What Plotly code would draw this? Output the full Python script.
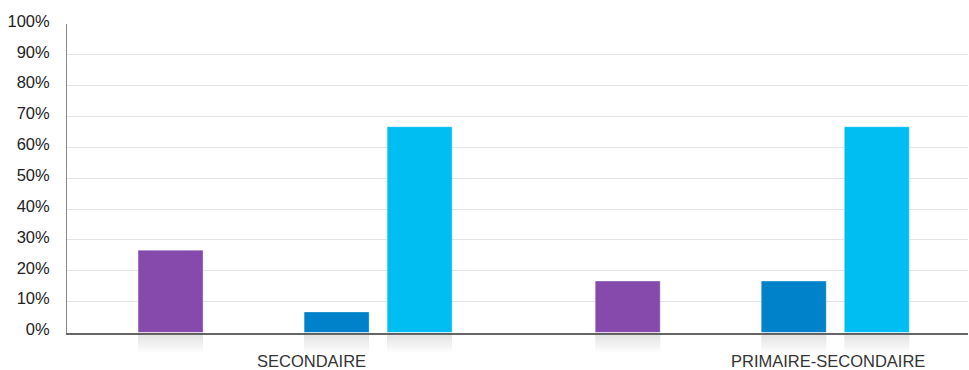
import plotly.graph_objects as go

# ---- data ----
categories = ["SECONDAIRE", "PRIMAIRE-SECONDAIRE"]
serie_violette = [26.7, 16.7]
serie_vide = [0, 0]
serie_bleu_fonce = [6.7, 16.7]
serie_bleu_clair = [66.7, 66.7]
series_names = ["Série 1", "Série 2", "Série 3", "Série 4"]
series_colors = ["#864aad", "#7a7a7a", "#0082ca", "#00bdf2"]
y_tick_values = [0, 10, 20, 30, 40, 50, 60, 70, 80, 90, 100]
y_tick_labels = ["0%", "10%", "20%", "30%", "40%", "50%", "60%", "70%", "80%", "90%", "100%"]

all_series = [serie_violette, serie_vide, serie_bleu_fonce, serie_bleu_clair]

fig = go.Figure()

for i, (vals, name, col) in enumerate(zip(all_series, series_names, series_colors)):
    fig.add_trace(go.Bar(
        x=categories, y=vals, name=name, offsetgroup=str(i),
        marker=dict(color=col, line=dict(color="rgba(255,255,255,0.35)", width=1)),
        xaxis="x", yaxis="y", showlegend=False, hoverinfo="skip",
    ))

# reflection shadow below each visible bar (layered for a fade)
N = 10
for k in range(N):
    h = 1 - k / N
    for i, vals in enumerate(all_series):
        fig.add_trace(go.Bar(
            x=categories, y=[h if v > 0 else 0 for v in vals],
            offsetgroup=str(i), marker=dict(color="rgba(110,122,122,0.024)", line=dict(width=0)),
            xaxis="x2", yaxis="y2", showlegend=False, hoverinfo="skip",
        ))

font_family = "Liberation Sans, Arial, Helvetica, sans-serif"

fig.update_layout(
    template="none",
    width=969, height=370,
    margin=dict(l=67, r=1, t=24, b=16, autoexpand=False),
    paper_bgcolor="white", plot_bgcolor="white",
    barmode="group", bargap=0.2735, bargroupgap=0.217,
    showlegend=False,
    xaxis=dict(
        domain=[0, 1], anchor="y", type="category", automargin=False,
        range=[-0.499, 1.472], showticklabels=False, ticks="",
        showgrid=False, showline=True, linecolor="#666666", linewidth=1.5,
        zeroline=False, fixedrange=True,
    ),
    yaxis=dict(
        domain=[0.065, 1], anchor="x", range=[0, 100], automargin=False,
        tickvals=y_tick_values, ticktext=y_tick_labels, ticks="",
        tickfont=dict(family=font_family, size=16.5, color="#222222"),
        ticklabelstandoff=13, ticklabelshift=-3,
        showgrid=True, gridcolor="#e3e3e3", gridwidth=1,
        showline=True, linecolor="#888888", linewidth=1,
        zeroline=False,
    ),
    xaxis2=dict(
        domain=[0, 1], anchor="y2", type="category", matches="x", automargin=False,
        visible=False, showgrid=False, zeroline=False,
    ),
    yaxis2=dict(
        domain=[0, 0.063], anchor="x2", range=[1.1, 0], automargin=False,
        visible=False, showgrid=False, zeroline=False,
    ),
)

label_positions = [0.2719, 0.8446]
for cat, px in zip(categories, label_positions):
    fig.add_annotation(
        text=cat, xref="paper", yref="paper", x=px, y=0,
        xanchor="center", yanchor="middle", yshift=-7, showarrow=False,
        font=dict(family=font_family, size=16.5, color="#333333"),
    )

fig.write_html(
    "out.html",
    config={"displayModeBar": False},
    post_script="document.body.style.margin='0';document.body.style.overflow='hidden';",
)
